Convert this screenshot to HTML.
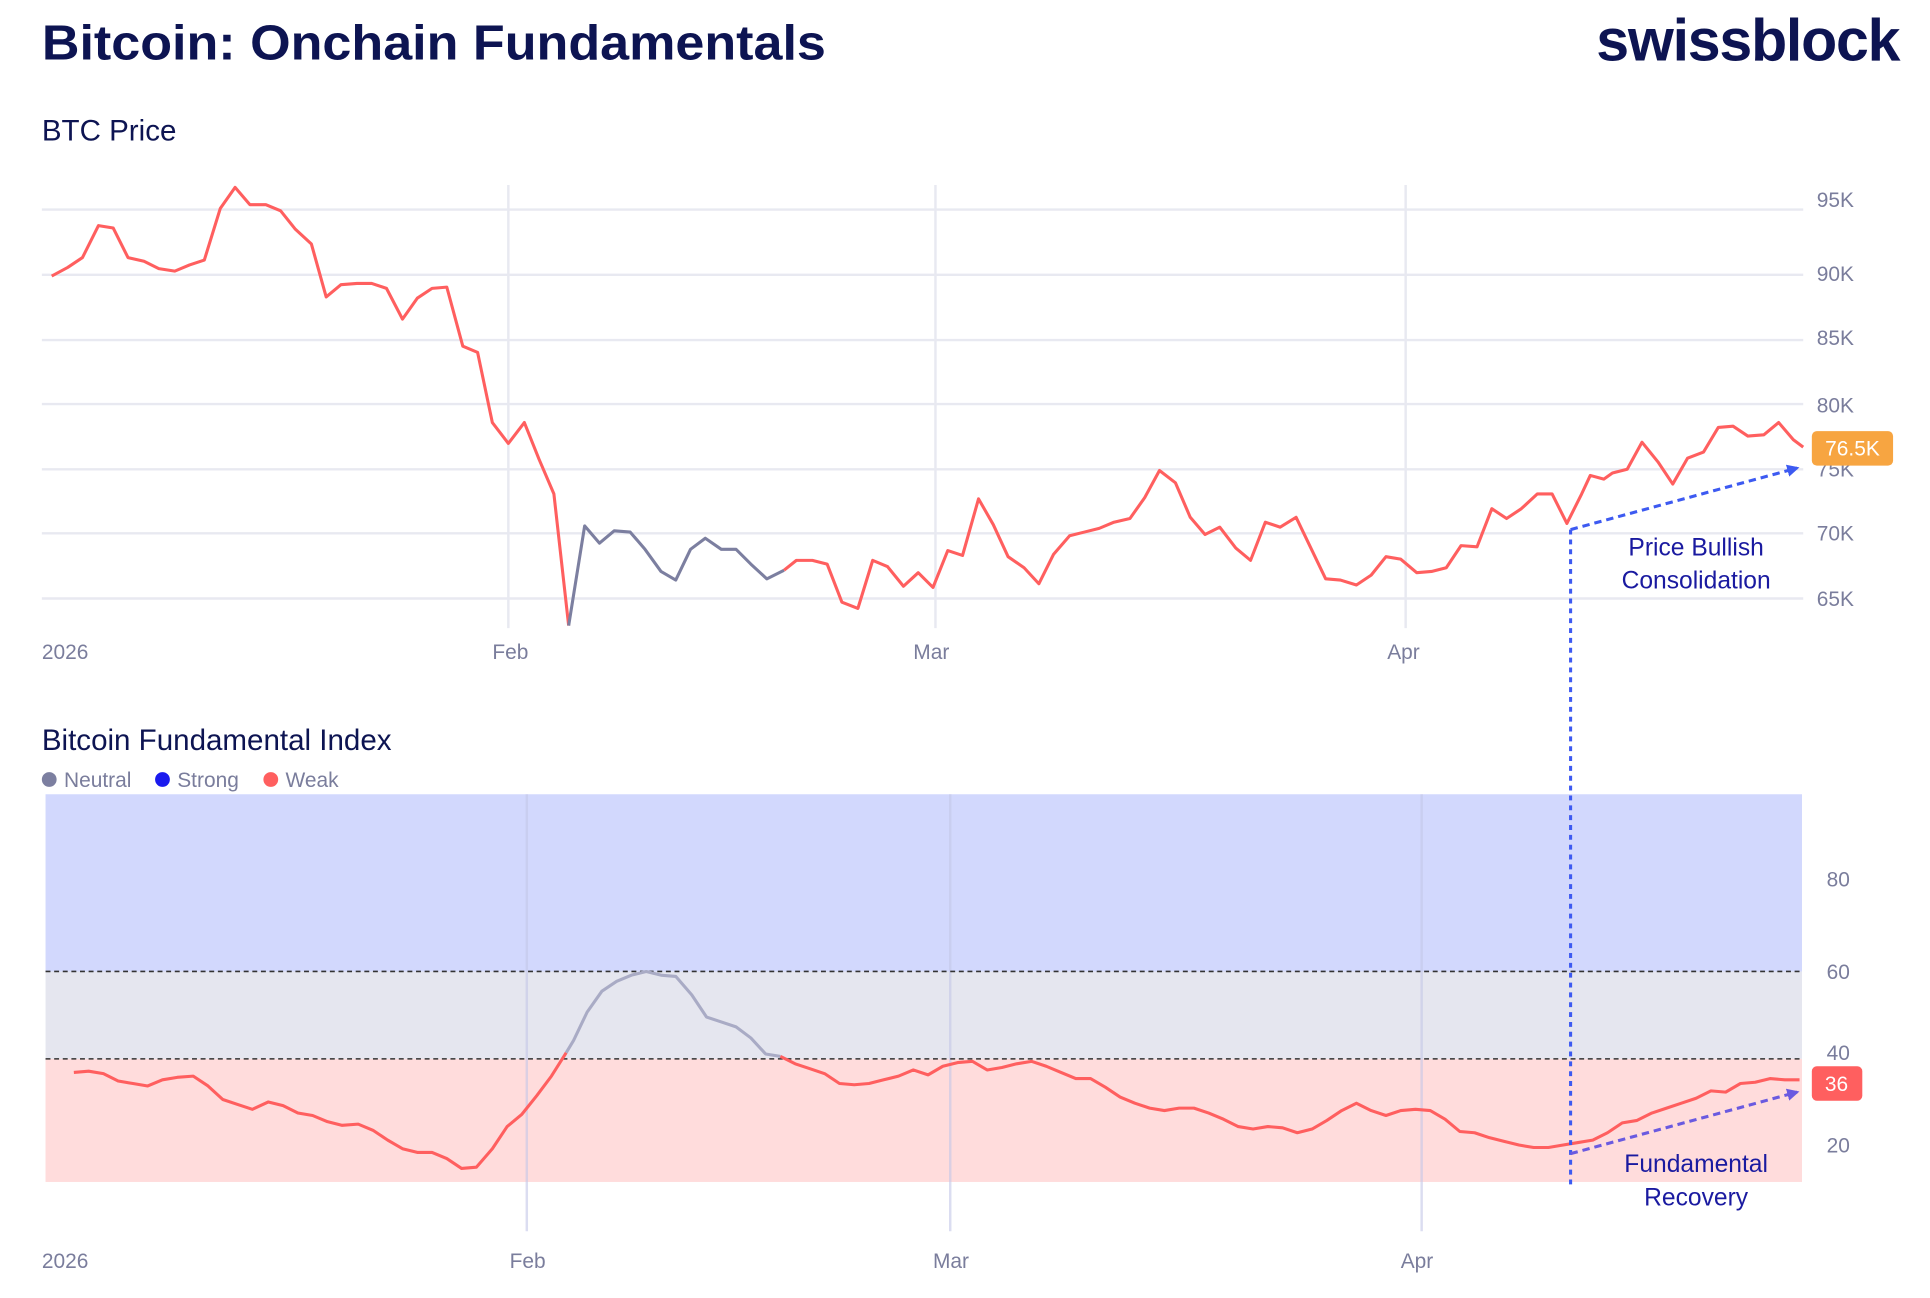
<!DOCTYPE html>
<html><head><meta charset="utf-8"><style>
html,body{margin:0;padding:0;background:#fff;}
svg{display:block;}
text{font-family:"Liberation Sans",sans-serif;}
</style></head><body>
<svg width="1930" height="1298" viewBox="0 0 1568 1054" xmlns="http://www.w3.org/2000/svg">
<defs>
<marker id="ab" markerWidth="10" markerHeight="10" refX="8" refY="5" orient="auto" markerUnits="userSpaceOnUse"><path d="M0,0 L10,5 L0,10 z" fill="#3d5af1"/></marker>
<marker id="ap" markerWidth="10" markerHeight="10" refX="8" refY="5" orient="auto" markerUnits="userSpaceOnUse"><path d="M0,0 L10,5 L0,10 z" fill="#6a5ae0"/></marker>
</defs>
<text x="34" y="48" font-size="40" font-weight="bold" fill="#0d1452" textLength="637" lengthAdjust="spacingAndGlyphs">Bitcoin: Onchain Fundamentals</text>
<text x="1543" y="49" font-size="48" font-weight="bold" fill="#0d1452" text-anchor="end" letter-spacing="-1">swissblock</text>
<text x="34" y="114" font-size="24" fill="#0d1452">BTC Price</text>
<g stroke="#e8e9f1" stroke-width="2">
<line x1="34" y1="170" x2="1465" y2="170"/><line x1="34" y1="223" x2="1465" y2="223"/><line x1="34" y1="276" x2="1465" y2="276"/><line x1="34" y1="328" x2="1465" y2="328"/><line x1="34" y1="381" x2="1465" y2="381"/><line x1="34" y1="433" x2="1465" y2="433"/><line x1="34" y1="486" x2="1465" y2="486"/>
<line x1="413" y1="150" x2="413" y2="510"/><line x1="760" y1="150" x2="760" y2="510"/><line x1="1142" y1="150" x2="1142" y2="510"/>
</g>
<g font-size="17" fill="#7a7d9c">
<text x="1476" y="168">95K</text><text x="1476" y="228">90K</text><text x="1476" y="280">85K</text><text x="1476" y="335">80K</text><text x="1476" y="387">75K</text><text x="1476" y="439">70K</text><text x="1476" y="492">65K</text>
<text x="34" y="535">2026</text><text x="400" y="535">Feb</text><text x="742" y="535">Mar</text><text x="1127" y="535">Apr</text>
</g>
<g fill="none" stroke-width="2.5" stroke-linejoin="round">
<polyline stroke="#ff5f5f" points="42,224 55,217 67,209 80,183 92,185 104,209 117,212 129,218 142,220 154,215 166,211 179,169 191,152 203,166 216,166 228,171 240,186 253,198 265,241 277,231 290,230 302,230 314,234 327,259 339,242 351,234 363,233 376,281 388,286 400,343 413,360 426,343 438,373 450,401 462,508"/>
<polyline stroke="#7c7fa0" points="462,508 475,427 487,441 499,431 512,432 524,446 537,464 549,471 561,446 573,437 586,446 598,446 610,458 623,470 637,463"/>
<polyline stroke="#ff5f5f" points="637,463 647,455 660,455 672,458 684,489 697,494 709,455 721,460 734,476 746,465 758,477 770,447 782,451 795,405 807,426 819,452 832,461 844,474 856,450 869,435 881,432 893,429 905,424 918,421 930,404 942,382 955,392 967,420 979,434 991,428 1004,445 1016,455 1028,424 1040,428 1053,420 1065,445 1077,470 1089,471 1102,475 1114,467 1126,452 1138,454 1151,465 1163,464 1175,461 1187,443 1200,444 1212,413 1224,421 1236,413 1249,401 1261,401 1273,425 1285,401 1292,386 1303,389 1310,384 1322,381 1334,359 1347,375 1359,393 1371,372 1384,367 1396,347 1408,346 1420,354 1433,353 1445,343 1457,357 1465,363"/>
</g>
<rect x="1472" y="350" width="66" height="28" rx="4" fill="#f7a541"/>
<text x="1505" y="370" font-size="17" fill="#fff" text-anchor="middle">76.5K</text>

<text x="34" y="609" font-size="24" fill="#0d1452">Bitcoin Fundamental Index</text>
<g font-size="17" fill="#7a7d9c">
<circle cx="40" cy="633" r="6" fill="#7c7fa0"/><text x="52" y="639">Neutral</text>
<circle cx="132" cy="633" r="6" fill="#1a1aee"/><text x="144" y="639">Strong</text>
<circle cx="220" cy="633" r="6" fill="#ff5f5f"/><text x="232" y="639">Weak</text>
</g>
<rect x="37" y="645" width="1427" height="144" fill="#d2d8fd"/>
<rect x="37" y="789" width="1427" height="71" fill="#e5e6ef"/>
<rect x="37" y="860" width="1427" height="100" fill="#ffdcdc"/>
<g stroke="#c4c8e8" stroke-width="2" opacity="0.6">
<line x1="428" y1="645" x2="428" y2="1000"/><line x1="772" y1="645" x2="772" y2="1000"/><line x1="1155" y1="645" x2="1155" y2="1000"/>
</g>
<g stroke="#333" stroke-width="1.3" stroke-dasharray="4,3">
<line x1="37" y1="789" x2="1464" y2="789"/><line x1="37" y1="860" x2="1464" y2="860"/>
</g>
<g font-size="17" fill="#7a7d9c">
<text x="1484" y="720">80</text><text x="1484" y="795">60</text><text x="1484" y="861">40</text><text x="1484" y="936">20</text>
<text x="34" y="1030">2026</text><text x="414" y="1030">Feb</text><text x="758" y="1030">Mar</text><text x="1138" y="1030">Apr</text>
</g>
<g fill="none" stroke-width="2.5" stroke-linejoin="round">
<polyline stroke="#ff5f5f" points="60,871 72,870 84,872 96,878 108,880 120,882 132,877 144,875 157,874 169,882 181,893 193,897 205,901 218,895 230,898 242,904 254,906 266,911 278,914 291,913 303,918 315,926 327,933 339,936 351,936 363,941 375,949 387,948 400,933 412,915 424,905 436,890 448,874 460,855"/>
<polyline stroke="#a9abc5" points="460,855 466,845 477,822 489,805 501,797 513,792 525,789 537,792 549,793 562,808 574,826 586,830 598,834 610,843 622,856 634,858"/>
<polyline stroke="#ff5f5f" points="634,858 646,864 658,868 670,872 682,880 694,881 706,880 718,877 730,874 742,869 754,873 766,866 778,863 790,862 802,869 814,867 826,864 838,862 850,866 862,871 874,876 886,876 898,883 910,891 922,896 934,900 946,902 958,900 970,900 982,904 994,909 1006,915 1018,917 1030,915 1042,916 1054,920 1066,917 1078,910 1090,902 1102,896 1114,902 1126,906 1138,902 1150,901 1162,902 1174,909 1186,919 1198,920 1210,924 1222,927 1234,930 1246,932 1258,932 1270,930 1282,928 1294,926 1306,920 1318,912 1330,910 1342,904 1354,900 1366,896 1378,892 1390,886 1402,887 1414,880 1426,879 1438,876 1450,877 1462,877"/>
</g>
<rect x="1472" y="866" width="41" height="28" rx="4" fill="#ff5f5f"/>
<text x="1492" y="886" font-size="17" fill="#fff" text-anchor="middle">36</text>

<line x1="1276" y1="430" x2="1276" y2="962" stroke="#3d5af1" stroke-width="2.5" stroke-dasharray="4,4"/>
<line x1="1276" y1="430" x2="1460" y2="380" stroke="#3d5af1" stroke-width="2.5" stroke-dasharray="6,4" marker-end="url(#ab)"/>
<line x1="1276" y1="937" x2="1460" y2="887" stroke="#6a5ae0" stroke-width="2.5" stroke-dasharray="6,4" marker-end="url(#ap)"/>
<g font-size="20" fill="#1a1aa0" text-anchor="middle">
<text x="1378" y="451">Price Bullish</text><text x="1378" y="478">Consolidation</text>
<text x="1378" y="952">Fundamental</text><text x="1378" y="979">Recovery</text>
</g>
</svg>
</body></html>
